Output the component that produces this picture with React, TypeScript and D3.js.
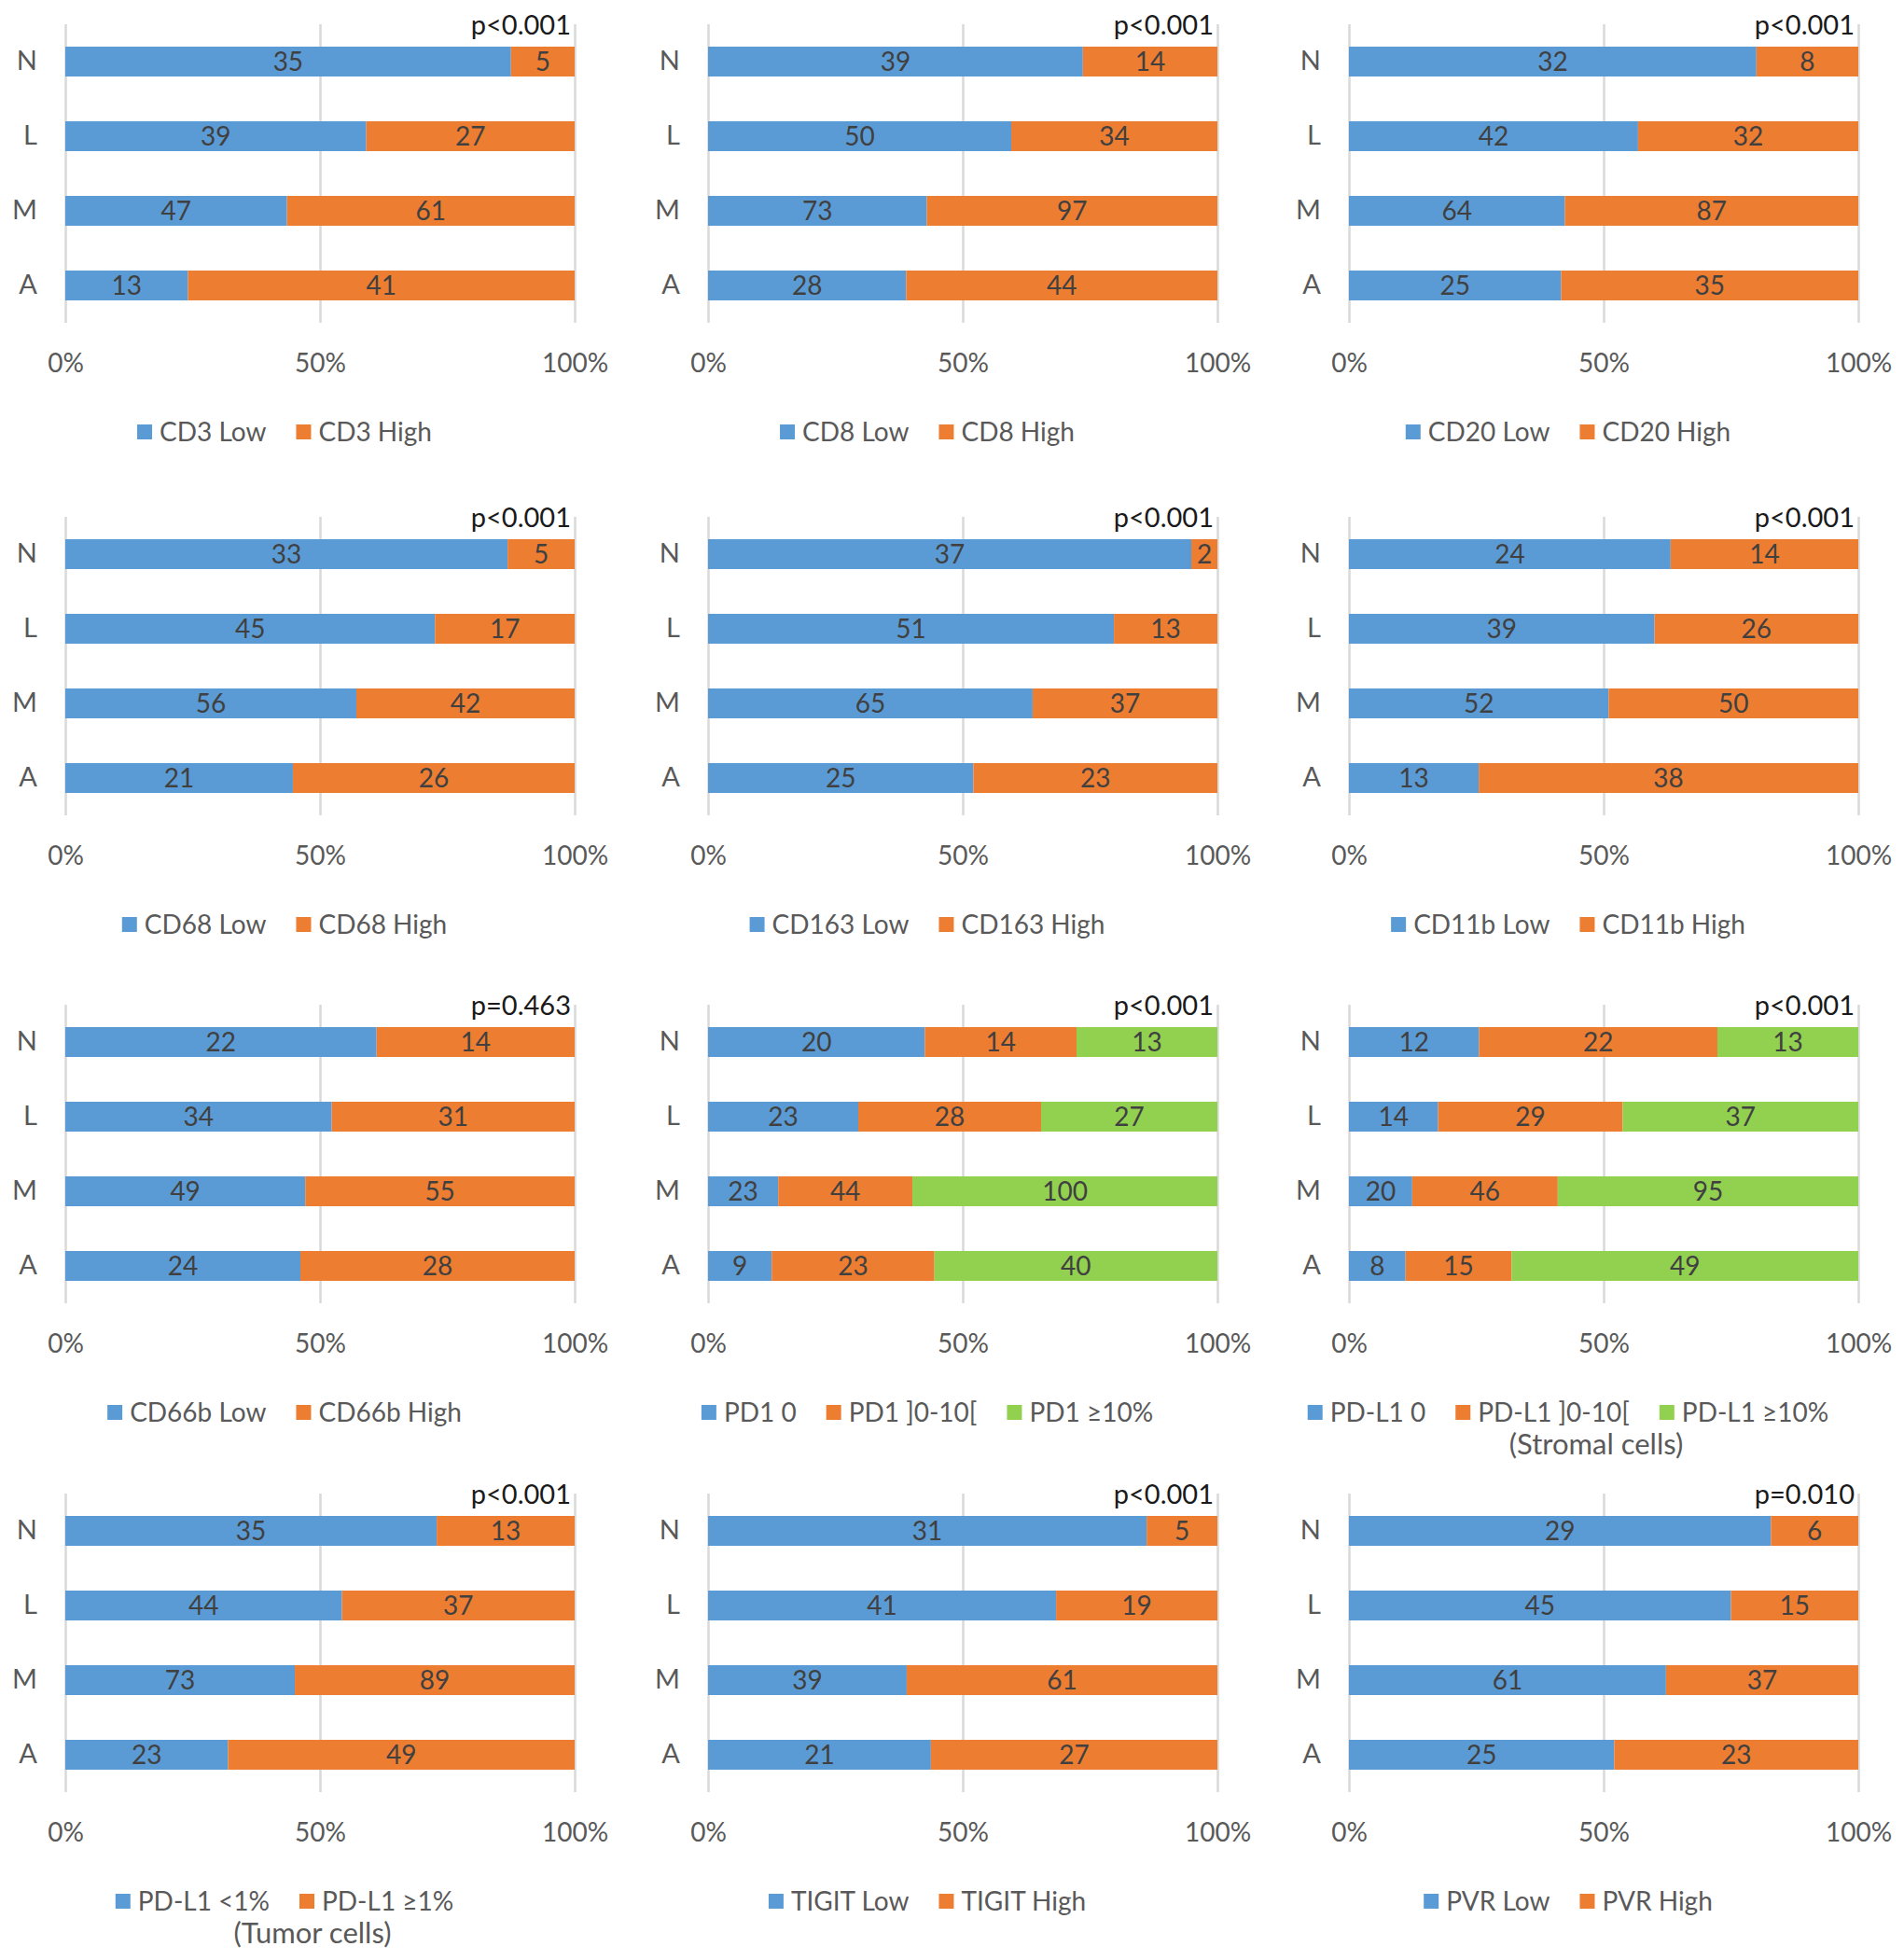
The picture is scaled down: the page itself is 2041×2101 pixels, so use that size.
import React, { useEffect, useRef } from "react";
import * as d3 from "d3";

// Categories (bar rows, top to bottom)
const categories = ["N", "L", "M", "A"];
const tickValues = [0, 0.5, 1];

// Counts per category (N, L, M, A)
const cd3Low = [35, 39, 47, 13];
const cd3High = [5, 27, 61, 41];
const cd8Low = [39, 50, 73, 28];
const cd8High = [14, 34, 97, 44];
const cd20Low = [32, 42, 64, 25];
const cd20High = [8, 32, 87, 35];

const cd68Low = [33, 45, 56, 21];
const cd68High = [5, 17, 42, 26];
const cd163Low = [37, 51, 65, 25];
const cd163High = [2, 13, 37, 23];
const cd11bLow = [24, 39, 52, 13];
const cd11bHigh = [14, 26, 50, 38];

const cd66bLow = [22, 34, 49, 24];
const cd66bHigh = [14, 31, 55, 28];
const pd1Zero = [20, 23, 23, 9];
const pd1Mid = [14, 28, 44, 23];
const pd1High = [13, 27, 100, 40];
const pdl1sZero = [12, 14, 20, 8];
const pdl1sMid = [22, 29, 46, 15];
const pdl1sHigh = [13, 37, 95, 49];

const pdl1tLow = [35, 44, 73, 23];
const pdl1tHigh = [13, 37, 89, 49];
const tigitLow = [31, 41, 39, 21];
const tigitHigh = [5, 19, 61, 27];
const pvrLow = [29, 45, 61, 25];
const pvrHigh = [6, 15, 37, 23];

interface Panel {
  names: string[];
  series: number[][];
  p: string;
  note?: string;
}

const panels: Panel[] = [
  { names: ["CD3 Low", "CD3 High"], series: [cd3Low, cd3High], p: "p<0.001" },
  { names: ["CD8 Low", "CD8 High"], series: [cd8Low, cd8High], p: "p<0.001" },
  { names: ["CD20 Low", "CD20 High"], series: [cd20Low, cd20High], p: "p<0.001" },
  { names: ["CD68 Low", "CD68 High"], series: [cd68Low, cd68High], p: "p<0.001" },
  { names: ["CD163 Low", "CD163 High"], series: [cd163Low, cd163High], p: "p<0.001" },
  { names: ["CD11b Low", "CD11b High"], series: [cd11bLow, cd11bHigh], p: "p<0.001" },
  { names: ["CD66b Low", "CD66b High"], series: [cd66bLow, cd66bHigh], p: "p=0.463" },
  { names: ["PD1 0", "PD1 ]0-10[", "PD1 ≥10%"], series: [pd1Zero, pd1Mid, pd1High], p: "p<0.001" },
  {
    names: ["PD-L1 0", "PD-L1 ]0-10[", "PD-L1 ≥10%"],
    series: [pdl1sZero, pdl1sMid, pdl1sHigh],
    p: "p<0.001",
    note: "(Stromal cells)",
  },
  {
    names: ["PD-L1 <1%", "PD-L1 ≥1%"],
    series: [pdl1tLow, pdl1tHigh],
    p: "p<0.001",
    note: "(Tumor cells)",
  },
  { names: ["TIGIT Low", "TIGIT High"], series: [tigitLow, tigitHigh], p: "p<0.001" },
  { names: ["PVR Low", "PVR High"], series: [pvrLow, pvrHigh], p: "p=0.010" },
];

const colors = ["#5B9BD5", "#ED7D31", "#92D050"];

const W = 2041,
  H = 2101;
const colX = [70, 759, 1446];
const rowTop = [26, 554, 1077, 1601];
const plotW = 546,
  plotH = 320;
const font = "Lato, 'Open Sans', sans-serif";

const App: React.FC = () => {
  const ref = useRef<SVGSVGElement | null>(null);

  useEffect(() => {
    const svg = d3.select(ref.current);
    svg.selectAll("*").remove();

    panels.forEach((panel, i) => {
      const x0 = colX[i % 3];
      const top = rowTop[Math.floor(i / 3)];
      const g = svg.append("g");

      const x = d3.scaleLinear().domain([0, 1]).range([x0, x0 + plotW]);
      const y = d3
        .scaleBand()
        .domain(categories)
        .range([top, top + plotH])
        .paddingInner(0.6)
        .paddingOuter(0.3);

      // gridlines + percent ticks
      const ax = g
        .append("g")
        .attr("transform", `translate(0,${top + plotH})`)
        .call(
          d3
            .axisBottom(x)
            .tickValues(tickValues)
            .tickFormat(d3.format(".0%"))
            .tickSizeInner(-plotH)
            .tickSizeOuter(0)
            .tickPadding(33)
        );
      ax.select(".domain").remove();
      ax.selectAll("line").attr("stroke", "#D9D9D9").attr("stroke-width", 2.5);
      ax.selectAll("text")
        .attr("font-family", font)
        .attr("font-size", 28)
        .attr("fill", "#595959");

      // category labels
      const ay = g
        .append("g")
        .attr("transform", `translate(${x0},0)`)
        .call(d3.axisLeft(y).tickSize(0).tickPadding(30));
      ay.select(".domain").remove();
      ay.selectAll("text")
        .attr("font-family", font)
        .attr("font-size", 29)
        .attr("fill", "#595959");

      // stacked bars (100%)
      const keys = panel.series.map((_, k) => `s${k}`);
      const rows = categories.map((c, ci) => {
        const r: any = { cat: c };
        panel.series.forEach((s, k) => (r[`s${k}`] = s[ci]));
        return r;
      });
      const stacked = d3.stack().keys(keys).offset(d3.stackOffsetExpand)(rows);

      stacked.forEach((layer, k) => {
        const lg = g.append("g");
        lg.selectAll("rect")
          .data(layer)
          .enter()
          .append("rect")
          .attr("x", (d) => x(d[0]))
          .attr("y", (d) => y(d.data.cat as string) || 0)
          .attr("width", (d) => x(d[1]) - x(d[0]))
          .attr("height", y.bandwidth())
          .attr("fill", colors[k]);

        lg.selectAll("text")
          .data(layer)
          .enter()
          .append("text")
          .attr("x", (d) => (x(d[0]) + x(d[1])) / 2)
          .attr("y", (d) => (y(d.data.cat as string) || 0) + y.bandwidth() / 2)
          .attr("dy", "0.36em")
          .attr("text-anchor", "middle")
          .attr("font-family", font)
          .attr("font-size", 28)
          .attr("fill", "#404040")
          .text((d) => String(d.data[keys[k]]));
      });

      // p value
      g.append("text")
        .attr("x", x0 + plotW - 4)
        .attr("y", top + 11)
        .attr("text-anchor", "end")
        .attr("font-family", font)
        .attr("font-size", 29)
        .attr("fill", "#1a1a1a")
        .text(panel.p);

      // legend
      const legendY = top + 437;
      const lg = g.append("g");
      let cx = 0;
      panel.names.forEach((name, k) => {
        lg.append("rect")
          .attr("x", cx)
          .attr("y", legendY - 8)
          .attr("width", 16)
          .attr("height", 16)
          .attr("fill", colors[k]);
        const t = lg
          .append("text")
          .attr("x", cx + 24)
          .attr("y", legendY)
          .attr("dy", "0.36em")
          .attr("font-family", font)
          .attr("font-size", 28)
          .attr("fill", "#595959")
          .text(name);
        const tw = (t.node() as SVGTextElement).getComputedTextLength();
        cx += 24 + tw + 32;
      });
      const legendW = cx - 32;
      const legendCenter = x0 + plotW / 2 - 38;
      lg.attr("transform", `translate(${legendCenter - legendW / 2},0)`);

      if (panel.note) {
        g.append("text")
          .attr("x", legendCenter + 30)
          .attr("y", top + 471)
          .attr("dy", "0.36em")
          .attr("text-anchor", "middle")
          .attr("font-family", font)
          .attr("font-size", 31)
          .attr("fill", "#595959")
          .text(panel.note);
      }
    });
  }, []);

  return (
    <svg
      ref={ref}
      width={W}
      height={H}
      style={{ position: "absolute", left: 0, top: 0, background: "#fff" }}
    ></svg>
  );
};

export default App;
